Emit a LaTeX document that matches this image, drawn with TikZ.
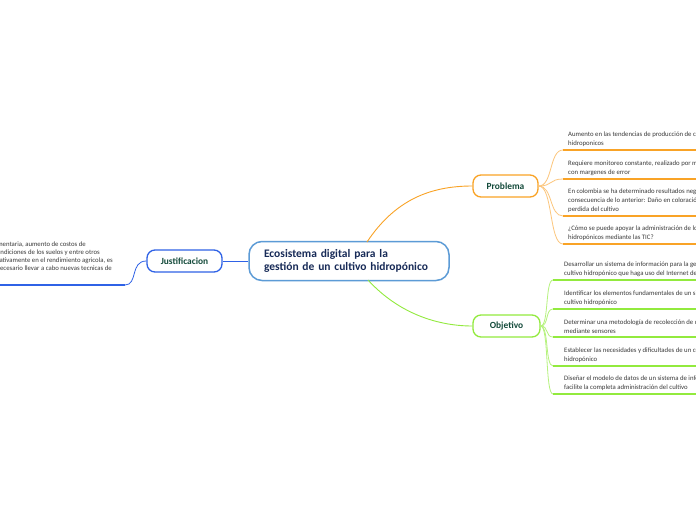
\documentclass[tikz,border=0pt]{standalone}
\usepackage{fontspec}
\setmainfont{Carlito}
\begin{document}
\begin{tikzpicture}[x=1pt,y=-1pt,
  maintext/.style={font=\fontsize{11.5}{13.5}\selectfont\bfseries, text=navy, align=left},
  topicbox/.style={draw, line width=1.3pt, rounded corners=8pt, fill=white, minimum height=22pt, inner sep=0pt, font=\fontsize{9.4}{11}\selectfont\bfseries, text=lblgreen},
  leaftext/.style={font=\fontsize{6.75}{9}\selectfont, text=leafgray, align=left, inner sep=0pt, anchor=south west},
  leftline/.style={font=\fontsize{6.75}{8.3}\selectfont, text=leafgray, inner sep=0pt, anchor=base east},
  porange/.style={draw=orangeA, line width=0.9pt},
  porangeL/.style={draw=orangeL, line width=0.8pt},
  porangeU/.style={draw=orangeA, line width=1.6pt},
  plime/.style={draw=limeA, line width=0.9pt},
  plimeL/.style={draw=limeL, line width=0.8pt},
  plimeU/.style={draw=limeA, line width=1.6pt},
  pblue/.style={draw=blueA, line width=0.8pt},
  pblueU/.style={draw=blueA, line width=1.6pt}
]
\definecolor{navy}{HTML}{172A57}
\definecolor{lblgreen}{HTML}{134A3A}
\definecolor{leafgray}{HTML}{3A3A3A}
\definecolor{orangeA}{HTML}{F9A326}
\definecolor{orangeL}{HTML}{FCC67C}
\definecolor{limeA}{HTML}{92EA3E}
\definecolor{limeL}{HTML}{B6F27E}
\definecolor{blueA}{HTML}{2F62E6}
\definecolor{centralB}{HTML}{5C9BD6}

\useasboundingbox (0,0) rectangle (696,520);
\clip (0,0) rectangle (696,520);
\fill[white] (0,0) rectangle (696,520);

% central node
\node[draw=centralB, line width=1.5pt, rounded corners=13pt, fill=white,
      minimum width=200pt, minimum height=39pt, text width=170pt, inner sep=0pt, maintext] (c) at (349,261)
  {Ecosistema digital para la\\gestión de un cultivo hidropónico};

% topic nodes
\node[topicbox, draw=blueA, minimum width=75pt] (j) at (184.5,261) {Justificacion};
\node[topicbox, draw=orangeA, minimum width=65pt] (p) at (505.5,186) {Problema};
\node[topicbox, draw=limeA, minimum width=67pt] (o) at (506.5,326) {Objetivo};

% main connectors
\coordinate (cp) at (367,242);
\coordinate (co) at (368,280);
\draw[pblue] (c.west) -- (j.east);
\draw[porange] (cp) .. controls (395,200) and (430,186) .. (p.west);
\draw[plime] (co) .. controls (400,315) and (440,326) .. (o.west);

% Justificacion leaf
\coordinate (ju0) at (125,285);
\coordinate (ju1) at (-5,285);
\draw[pblue] (j.west) .. controls (130,261) and (138,285) .. (ju0);
\draw[pblueU] (ju0) -- (ju1);
\node[leftline] (jt1) at (86,246.5) {Debido a la creciente demanda alimentaria, aumento de costos de};
\node[leftline] (jt2) at (100,254.5) {producción, deterioro de las condiciones de los suelos y entre otros};
\node[leftline] (jt3) at (113,262.5) {factores que inciden negativamente en el rendimiento agricola, es};
\node[leftline] (jt4) at (112,270.5) {necesario llevar a cabo nuevas tecnicas de};

% Problema leaves
\foreach \i/\uy in {1/150,2/179,3/216,4/244}{
  \coordinate (pu\i) at (563,\uy);
  \coordinate (pe\i) at (700,\uy);
  \draw[porangeL] (p.east) .. controls (553,186) and (549,\uy) .. (pu\i);
  \draw[porangeU] (pu\i) -- (pe\i);
}
\node[leaftext] (pt1) at (568,146.5) {Aumento en las tendencias de producción de cultivos\\hidroponicos};
\node[leaftext] (pt2) at (568,175.5) {Requiere monitoreo constante, realizado por medio humano\\con margenes de error};
\node[leaftext] (pt3) at (568,212.5) {En colombia se ha determinado resultados negativos como\\consecuencia de lo anterior: Daño en coloración, tamaño y\\perdida del cultivo};
\node[leaftext] (pt4) at (568,240.5) {¿Cómo se puede apoyar la administración de los cultivos\\hidropónicos mediante las TIC?};

% Objetivo leaves
\foreach \i/\uy in {1/280,2/309,3/337,4/366,5/394}{
  \coordinate (ou\i) at (553,\uy);
  \coordinate (oe\i) at (700,\uy);
  \draw[plimeL] (o.east) .. controls (549,326) and (545,\uy) .. (ou\i);
  \draw[plimeU] (ou\i) -- (oe\i);
}
\node[leaftext] (ot1) at (564,276.5) {Desarrollar un sistema de información para la gestión de un\\cultivo hidropónico que haga uso del Internet de las Cosas};
\node[leaftext] (ot2) at (564,305.5) {Identificar los elementos fundamentales de un sistema de\\cultivo hidropónico};
\node[leaftext] (ot3) at (564,333.5) {Determinar una metodología de recolección de datos\\mediante sensores};
\node[leaftext] (ot4) at (564,362.5) {Establecer las necesidades y dificultades de un cultivo\\hidropónico};
\node[leaftext] (ot5) at (564,390.5) {Diseñar el modelo de datos de un sistema de información que\\facilite la completa administración del cultivo};
\end{tikzpicture}
\end{document}
